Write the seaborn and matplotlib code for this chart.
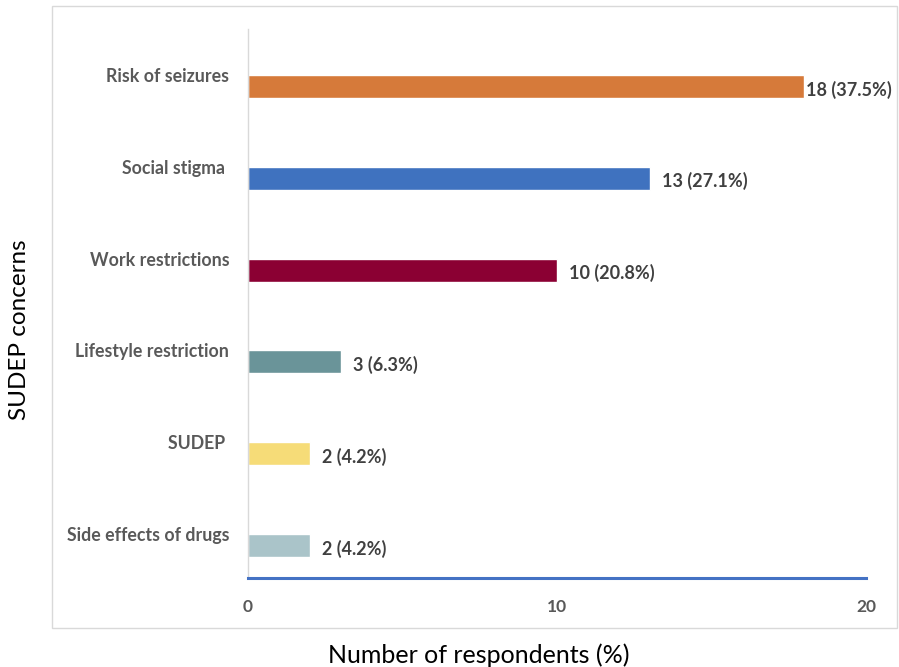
import matplotlib
matplotlib.use("Agg")
import matplotlib.pyplot as plt
import matplotlib.transforms as mtransforms
from matplotlib.patches import Rectangle
import seaborn as sns
import pandas as pd

categories = ["Risk of seizures", "Social stigma ", "Work restrictions",
              "Lifestyle restriction", "SUDEP ", "Side effects of drugs"]
counts = [18, 13, 10, 3, 2, 2]
percents = [37.5, 27.1, 20.8, 6.3, 4.2, 4.2]
colors = ["#D67A3A", "#3F72BF", "#8B0033", "#6A9499", "#F6DC78", "#AAC4C9"]
x_ticks = [0, 10, 20]

sns.set_theme(style="white")
plt.rcParams["font.family"] = ["Lato", "DejaVu Sans"]

fig = plt.figure(figsize=(8.99, 6.67), dpi=100)
ax = fig.add_axes([248/899, 1-578/667, (866-248)/899, (578-29)/667])

df = pd.DataFrame({"concern": categories, "count": counts})
sns.barplot(data=df, x="count", y="concern", hue="concern", palette=colors,
            width=0.25, legend=False, orient="h", ax=ax, saturation=1)

ax.set_xlim(0, 20)
ax.set_ylim(5.354, -0.626)
ax.set_xticks(x_ticks)
ax.set_xticklabels([str(t) for t in x_ticks], fontsize=12.5, fontweight="bold", color="#595959")
ax.tick_params(axis="x", length=0, pad=15)
ax.tick_params(axis="y", length=0, pad=13.5)
for lbl in ax.get_yticklabels():
    lbl.set_fontsize(12.8)
    lbl.set_fontweight("bold")
    lbl.set_color("#595959")
    lbl.set_transform(lbl.get_transform() +
                      mtransforms.ScaledTranslation(0, 11.5/100, fig.dpi_scale_trans))

ax.set_xlabel("")
ax.set_ylabel("")
for s in ["top", "right"]:
    ax.spines[s].set_visible(False)
ax.spines["left"].set_color("#d9d9d9")
ax.spines["left"].set_linewidth(1)
ax.spines["bottom"].set_color("#4472C4")
ax.spines["bottom"].set_linewidth(2.2)
ax.grid(False)

pads = [2, 12, 12, 12, 12, 12]
for i, (c, p) in enumerate(zip(counts, percents)):
    ax.annotate(f"{c} ({p}%)", xy=(c, i), xytext=(pads[i], -3),
                textcoords="offset pixels", ha="left", va="center",
                fontsize=13, fontweight="bold", color="#404040")

fig.text(479/899, 1-655/667, "Number of respondents (%)", ha="center", va="center",
         fontsize=18, color="black")
fig.text(20/899, 1-330/667, "SUDEP concerns", ha="center", va="center",
         rotation=90, fontsize=17.5, color="black")

fig.patches.append(Rectangle((52/899, 1-628/667), (897-52)/899, (628-6)/667,
                             transform=fig.transFigure, fill=False,
                             ec="#d9d9d9", lw=1))

fig.savefig("out.png", dpi=100, facecolor="white")
